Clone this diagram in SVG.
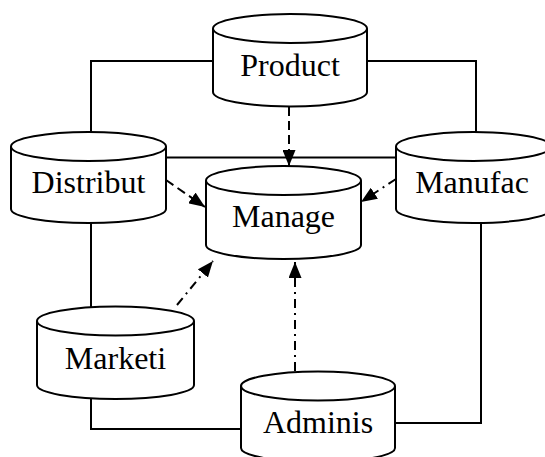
<svg xmlns="http://www.w3.org/2000/svg" width="545" height="457" viewBox="0 0 545 457">
<style>
.cyl{fill:#fff;stroke:#000;stroke-width:2}
.lbl{font-family:"Liberation Serif","Times New Roman",serif;font-size:32px;fill:#000;text-anchor:middle}
.ln{fill:none;stroke:#000;stroke-width:2}
.dash{stroke-dasharray:9,5}
.dashdot{stroke-dasharray:9,5,2,5}
</style>
<defs>
<marker id="ah" markerUnits="userSpaceOnUse" markerWidth="17" markerHeight="13" refX="16" refY="6.5" orient="auto">
<path d="M0,0 L16,6.5 L0,13 z" fill="#000"/>
</marker>
</defs>
<rect width="545" height="457" fill="#fff"/>
<g id="connectors">
<polyline class="ln" points="91,132 91,61 213,61"/>
<polyline class="ln" points="367,61 476,61 476,133"/>
<line class="ln" x1="166" y1="157.5" x2="396" y2="157.5"/>
<line class="ln" x1="91" y1="223" x2="91" y2="307"/>
<polyline class="ln" points="91,399 91,429 241,429"/>
<polyline class="ln" points="395,423 481,423 481,223"/>
<line class="ln dash" x1="289" y1="107" x2="289" y2="166" marker-end="url(#ah)"/>
<line class="ln dash" x1="166" y1="180" x2="205" y2="207" marker-end="url(#ah)"/>
<line class="ln dashdot" x1="396" y1="179" x2="361" y2="202" marker-end="url(#ah)"/>
<line class="ln dashdot" x1="177" y1="305" x2="213" y2="261" marker-end="url(#ah)"/>
<line class="ln dashdot" x1="295" y1="371" x2="295" y2="262" marker-end="url(#ah)"/>
</g>
<g id="product">
<path class="cyl" d="M213,28.5 V92 A77,14.5 0 0 0 367,92 V28.5"/>
<ellipse class="cyl" cx="290" cy="28.5" rx="77" ry="14.5"/>
<text class="lbl" x="290" y="76">Product</text>
</g>
<g id="distribut">
<path class="cyl" d="M11,146.5 V209 A77.5,14 0 0 0 166,209 V146.5"/>
<ellipse class="cyl" cx="88.5" cy="146.5" rx="77.5" ry="14.5"/>
<text class="lbl" x="88.5" y="193">Distribut</text>
</g>
<g id="manufac">
<path class="cyl" d="M396,146.5 V209 A77.5,14 0 0 0 551,209 V146.5"/>
<ellipse class="cyl" cx="473.5" cy="146.5" rx="77.5" ry="14.5"/>
<text class="lbl" x="472" y="193">Manufac</text>
</g>
<g id="manage">
<path class="cyl" d="M206,180.5 V245 A77.5,14 0 0 0 361,245 V180.5"/>
<ellipse class="cyl" cx="283.5" cy="180.5" rx="77.5" ry="14.5"/>
<text class="lbl" x="283.5" y="227">Manage</text>
</g>
<g id="marketi">
<path class="cyl" d="M37,321 V385 A78.5,14 0 0 0 194,385 V321"/>
<ellipse class="cyl" cx="115.5" cy="321" rx="78.5" ry="14.5"/>
<text class="lbl" x="115.5" y="369">Marketi</text>
</g>
<g id="adminis">
<path class="cyl" d="M241,386 V448 A77,14 0 0 0 395,448 V386"/>
<ellipse class="cyl" cx="318" cy="386" rx="77" ry="14.5"/>
<text class="lbl" x="318" y="433">Adminis</text>
</g>
</svg>
